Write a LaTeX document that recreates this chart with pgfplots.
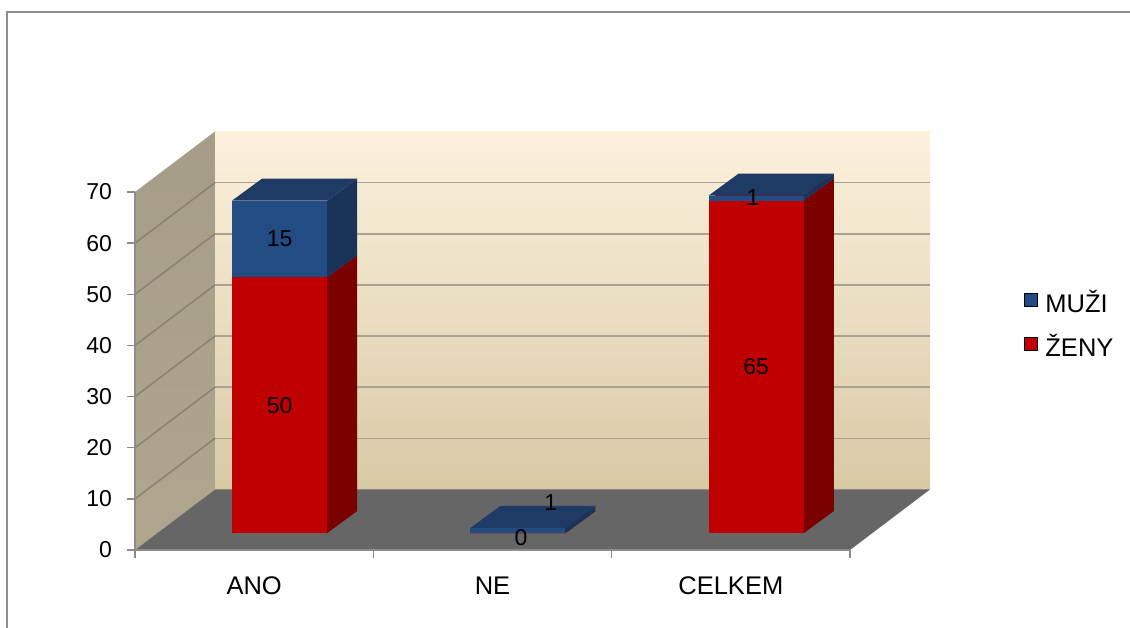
\documentclass[border=0pt]{standalone}
\usepackage{fontspec}
\setmainfont{Liberation Sans}
\usepackage{pgfplots}
\pgfplotsset{compat=1.18}
\definecolor{framegray}{HTML}{8E8E8E}
\definecolor{wallTop}{HTML}{FCF1DC}
\definecolor{wallBot}{HTML}{D8C9A6}
\definecolor{sideTop}{HTML}{A69D89}
\definecolor{sideBot}{HTML}{B0A68E}
\definecolor{floorgray}{HTML}{666666}
\definecolor{gridback}{HTML}{A8A296}
\definecolor{gridside}{HTML}{8A8374}
\definecolor{axisgray}{HTML}{8C8C8C}
\definecolor{blueF}{HTML}{224C84}
\definecolor{blueS}{HTML}{19335A}
\definecolor{blueT}{HTML}{1E3B66}
\definecolor{redF}{HTML}{C00000}
\definecolor{redS}{HTML}{7B0000}
\definecolor{redT}{HTML}{9A0000}
% 3D box: #1 category, #2 bottom value, #3 top value, #4 front, #5 side, #6 top colour
\newcommand\boxthree[6]{%
 \pgfmathsetmacro\xa{#1+0.1065-0.1995}%
 \pgfmathsetmacro\xb{#1+0.1065+0.1995}%
 \pgfmathsetmacro\ya{#2+3.31}%
 \pgfmathsetmacro\yb{#3+3.31}%
 \pgfmathsetmacro\xc{\xa+0.126}%
 \pgfmathsetmacro\xd{\xb+0.126}%
 \pgfmathsetmacro\yd{\yb+4.30}%
 \pgfmathsetmacro\ye{\ya+4.30}%
 \edef\tmp{%
  \noexpand\addplot[fill=#4,draw=none,forget plot] coordinates {(\xa,\ya) (\xb,\ya) (\xb,\yb) (\xa,\yb)};
  \noexpand\addplot[fill=#5,draw=none,forget plot] coordinates {(\xb,\ya) (\xd,\ye) (\xd,\yd) (\xb,\yb)};
  \noexpand\addplot[fill=#6,draw=none,forget plot] coordinates {(\xa,\yb) (\xb,\yb) (\xd,\yd) (\xc,\yd)};
 }\tmp}
\begin{document}
\begin{tikzpicture}[x=1pt,y=1pt]
\useasboundingbox (0,0) rectangle (1130,628);
\draw[color=framegray, line width=2pt] (7,-5) -- (7,616) -- (1135,616);
\begin{axis}[
 at={(135pt,78pt)}, anchor=south west,
 scale only axis, width=795pt, height=418.5pt,
 xmin=-0.5, xmax=2.8357, ymin=0, ymax=81.83,
 clip=false,
 axis line style={draw=none},
 xtick={0,1,2}, xticklabels={ANO,NE,CELKEM},
 ytick={0,10,...,70},
 xtick style={draw=none}, ytick style={draw=none},
 /pgf/number format/assume math mode=true,
 yticklabel style={font=\fontsize{23}{27}\selectfont, xshift=-19.5pt},
 xticklabel style={font=\fontsize{25.5}{30}\selectfont, yshift=-23pt},
 legend image code/.code={\fill[#1] (0pt,-4pt) rectangle (13pt,9pt);},
 legend cell align=left,
 legend style={at={(1.118,0.54)}, anchor=west, draw=none, fill=none,
   inner sep=0pt, font=\fontsize{25.5}{30}\selectfont, row sep=20pt,
   nodes={inner sep=0pt},
   /tikz/every odd column/.append style={column sep=8pt}},
]
% walls and floor
\addplot[draw=none, top color=sideTop, bottom color=sideBot, forget plot]
  coordinates {(-0.5,0) (-0.1643,11.83) (-0.1643,81.83) (-0.5,70)};
\addplot[draw=none, top color=wallTop, bottom color=wallBot, forget plot]
  coordinates {(-0.1643,11.83) (2.8357,11.83) (2.8357,81.83) (-0.1643,81.83)};
\addplot[draw=none, fill=floorgray, forget plot]
  coordinates {(-0.5,0) (2.5,0) (2.8357,11.83) (-0.1643,11.83)};
% gridlines
\foreach \v/\w in {10/21.83,20/31.83,30/41.83,40/51.83,50/61.83,60/71.83}{
  \edef\tmp{\noexpand\draw[gridback, line width=1.5pt] (axis cs:-0.1643,\w) -- (axis cs:2.8357,\w);
  \noexpand\draw[gridside, line width=1.5pt] (axis cs:-0.5,\v) -- (axis cs:-0.1643,\w);}\tmp
}
% axis lines and ticks
\draw[axisgray, line width=1.5pt] (axis cs:-0.5,70) -- (axis cs:-0.5,0) -- (axis cs:2.5,0);
\foreach \v in {0,10,20,30,40,50,60,70}{
  \edef\tmp{\noexpand\draw[axisgray, line width=1.5pt] (axis cs:-0.5,\v) -- ++(-8pt,0pt);}\tmp
}
\foreach \u in {-0.5,0.5,1.5,2.5}{
  \edef\tmp{\noexpand\draw[axisgray, line width=1.5pt] (axis cs:\u,0) -- ++(0pt,-8pt);}\tmp
}
% bars: ZENY then MUZI
\boxthree{0}{0}{50}{redF}{redS}{redT}
\boxthree{0}{50}{65}{blueF}{blueS}{blueT}
\boxthree{1}{0}{0}{redF}{redS}{redT}
\boxthree{1}{0}{1}{blueF}{blueS}{blueT}
\boxthree{2}{0}{65}{redF}{redS}{redT}
\boxthree{2}{65}{66}{blueF}{blueS}{blueT}
% data labels
\begin{scope}[font=\fontsize{23}{27}\selectfont]
\node at (axis cs:0.1065,28.31) {50};
\node at (axis cs:0.1065,60.81) {15};
\node at (axis cs:1.12,2.35) {0};
\node at (axis cs:1.245,9.2) {1};
\node at (axis cs:2.1065,35.81) {65};
\node at (axis cs:2.093,68.81) {1};
\end{scope}
% legend
\addlegendimage{fill=blueF}
\addlegendentry{MUŽI}
\addlegendimage{fill=redF}
\addlegendentry{ŽENY}
\end{axis}
\end{tikzpicture}
\end{document}
